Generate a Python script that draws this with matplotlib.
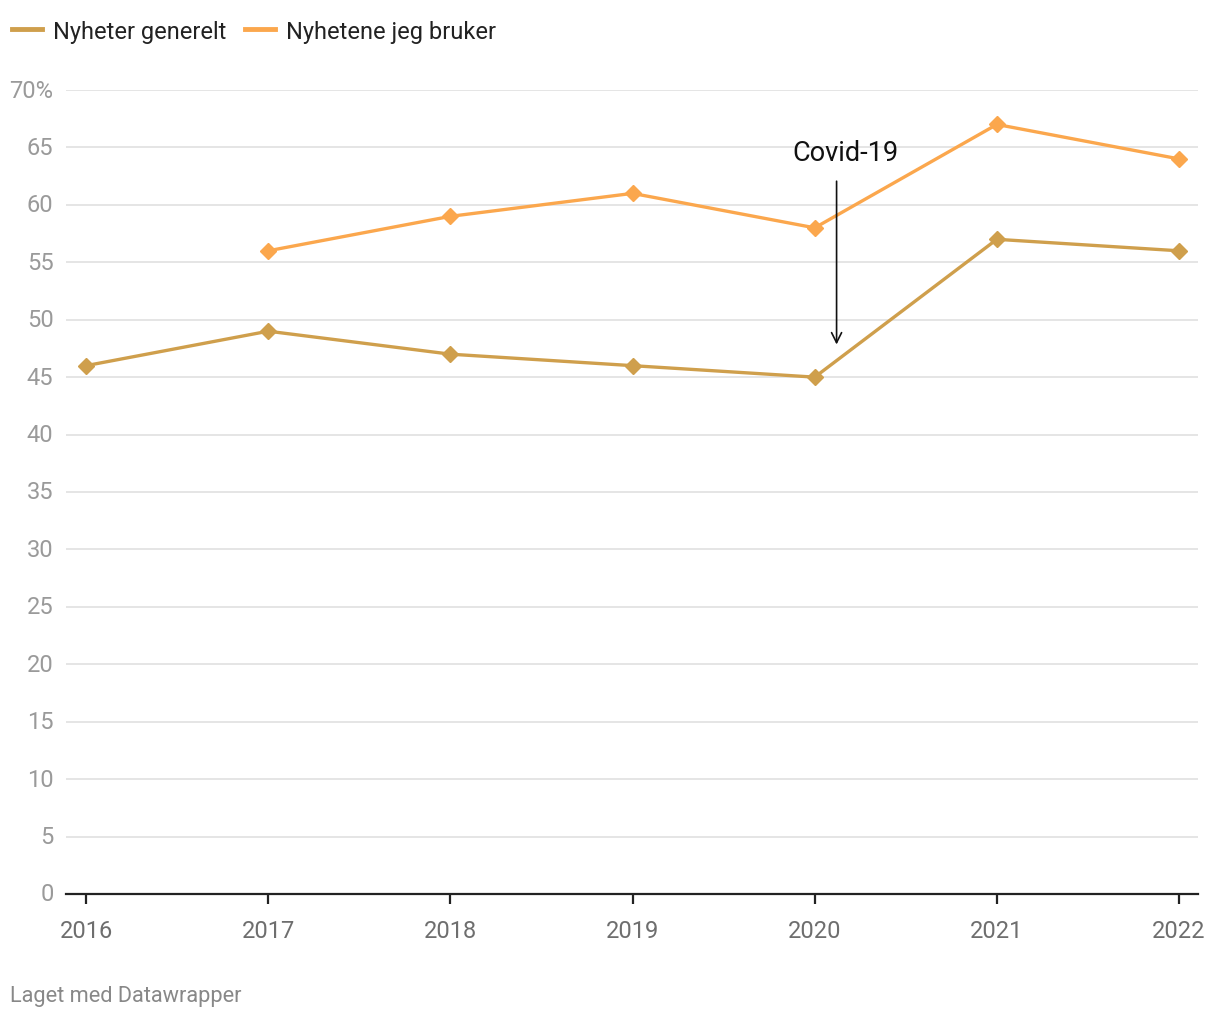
import matplotlib.pyplot as plt

plt.rcParams['font.family'] = ['Roboto', 'DejaVu Sans']

years = [2016, 2017, 2018, 2019, 2020, 2021, 2022]
generelt = [46, 49, 47, 46, 45, 57, 56]
years_bruker = [2017, 2018, 2019, 2020, 2021, 2022]
bruker = [56, 59, 61, 58, 67, 64]
yticks = [0, 5, 10, 15, 20, 25, 30, 35, 40, 45, 50, 55, 60, 65, 70]
ylabels = [str(v) for v in yticks[:-1]] + ['70%']

c_gen = '#cf9f4c'
c_bru = '#fba74d'

fig = plt.figure(figsize=(12.2, 10.2), dpi=100)
ax = fig.add_axes([66 / 1220, 1 - 895 / 1020, (1198 - 66) / 1220, (895 - 91) / 1020])

ax.plot(years, generelt, color=c_gen, lw=2.4, marker='D', ms=8, label='Nyheter generelt', zorder=3)
ax.plot(years_bruker, bruker, color=c_bru, lw=2.4, marker='D', ms=8, label='Nyhetene jeg bruker', zorder=3)

ax.set_xlim(2015.89, 2022.104)
ax.set_ylim(0, 70)
ax.set_yticks(yticks)
ax.set_yticklabels(ylabels)
ax.set_xticks(years)
ax.set_xticklabels([str(y) for y in years])

for s in ['top', 'right', 'left']:
    ax.spines[s].set_visible(False)
ax.spines['bottom'].set_color('#222222')
ax.spines['bottom'].set_linewidth(1.6)
ax.grid(axis='y', color='#e3e3e3', lw=1.3, zorder=0)
ax.set_axisbelow(True)

ax.tick_params(axis='y', length=0, pad=9, labelsize=17, labelcolor='#9a9a9a')
ax.tick_params(axis='x', length=7, width=1.6, color='#222222', pad=11,
               labelsize=17, labelcolor='#6e6e6e')
for lab in ax.get_yticklabels():
    lab.set_verticalalignment('center')

# Covid-19 annotation
ax.annotate('', xy=(2020.12, 47.6), xytext=(2020.12, 62.3),
            arrowprops=dict(arrowstyle='->', color='#111111', lw=1.2,
                            mutation_scale=18))
ax.text(2020.17, 64.6, 'Covid-19', ha='center', va='center', fontsize=19.5, color='#111111')

leg = fig.legend(loc='upper left', bbox_to_anchor=(-0.004, 0.996), ncol=2, frameon=False,
                 fontsize=17, handlelength=1.27, handletextpad=0.5, columnspacing=0.75,
                 borderaxespad=0.3)
for h in leg.get_lines():
    h.set_marker('')
    h.set_linewidth(3.5)
for t in leg.get_texts():
    t.set_color('#222222')

fig.text(10 / 1220, 1 - 997 / 1020, 'Laget med Datawrapper', fontsize=15.7,
         color='#888888', va='center', ha='left')

fig.savefig('out.png', dpi=100)
